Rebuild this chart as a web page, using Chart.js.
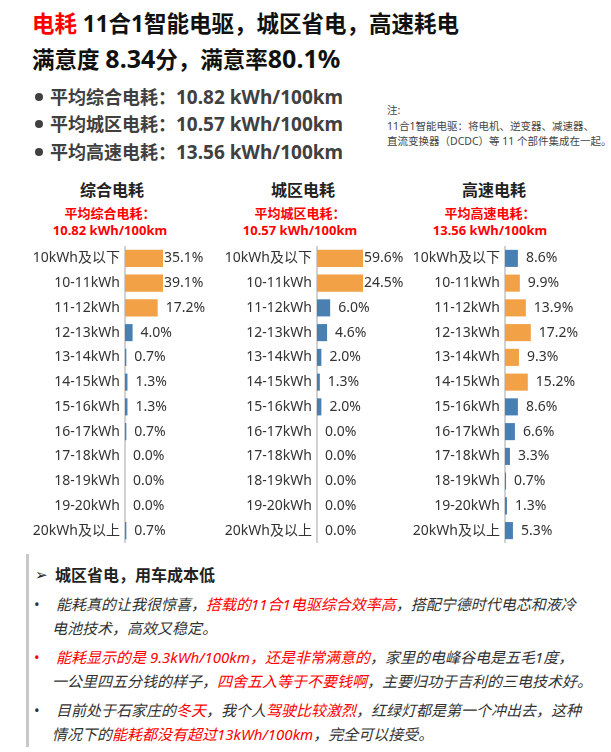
<!DOCTYPE html>
<html>
<head>
<meta charset="utf-8">
<script src="https://cdn.jsdelivr.net/npm/chart.js@4.4.1/dist/chart.umd.min.js"></script>
<style>
  body { margin: 0; width: 611px; height: 752px; background: #fff; position: relative; overflow: hidden;
         font-family: "Noto Sans", "Noto Sans CJK SC", sans-serif; color: #222; }
  .abs { position: absolute; white-space: nowrap; }
  .title { left: 32px; font-size: 22.5px; font-weight: bold; line-height: 32px; color: #111; }
  .title .num { font-size: 25px; }
  .red { color: #ff0000; }
  .avg { left: 50px; font-size: 18px; font-weight: bold; line-height: 28px; color: #404040; }
  .avg .num { font-size: 19px; }
  .dot { position: absolute; left: -15px; top: 10px; width: 8px; height: 8px; border-radius: 50%; background: #404040; }
  .note { left: 387px; top: 103px; font-size: 10.5px; line-height: 15.5px; color: #444; }
  .ctitle { font-size: 16px; font-weight: bold; line-height: 20px; color: #222; text-align: center; width: 180px; }
  .csub { font-size: 13px; font-weight: bold; line-height: 16.5px; color: #ff0000; text-align: center; width: 180px; }
  canvas { position: absolute; top: 246px; }
  .box { position: absolute; left: 26px; top: 554px; width: 580px; height: 193px; border-left: 3px solid #c8c8c8; }
  .box h3 { margin: 9px 0 0 0; font-size: 16px; line-height: 24px; font-weight: bold; padding-left: 26px; position: relative; color: #222; }
  .box h3 .arrow { position: absolute; left: 6px; top: 0; font-family: "DejaVu Sans"; font-size: 15px; font-weight: normal; }
  .box p { margin: 6px 0 0 0; font-size: 15px; line-height: 23.5px; font-style: italic; padding-left: 23px; position: relative; color: #333; white-space: nowrap; }
  .box p .bul { position: absolute; left: 5px; top: 0; font-style: normal; }
  .box p .first { padding-left: 4px; }
</style>
</head>
<body>
<div class="abs title" style="top:8px"><span class="red">电耗</span> 11合1智能电驱，城区省电，高速耗电</div>
<div class="abs title" style="top:42px">满意度 <span class="num">8.34</span>分，满意率<span class="num">80.1%</span></div>

<div class="abs avg" style="top:83px"><span class="dot"></span>平均综合电耗：<span class="num">10.82 kWh/100km</span></div>
<div class="abs avg" style="top:110px"><span class="dot"></span>平均城区电耗：<span class="num">10.57 kWh/100km</span></div>
<div class="abs avg" style="top:138px"><span class="dot"></span>平均高速电耗：<span class="num">13.56 kWh/100km</span></div>

<div class="abs note">注:<br>11合1智能电驱：将电机、逆变器、减速器、<br>直流变换器（DCDC）等 11 个部件集成在一起。</div>

<div class="abs ctitle" style="left:22px;top:180px">综合电耗</div>
<div class="abs csub" style="left:20px;top:205px">平均综合电耗：<br>10.82 kWh/100km</div>
<div class="abs ctitle" style="left:213px;top:180px">城区电耗</div>
<div class="abs csub" style="left:210px;top:205px">平均城区电耗：<br>10.57 kWh/100km</div>
<div class="abs ctitle" style="left:404px;top:180px">高速电耗</div>
<div class="abs csub" style="left:400px;top:205px">平均高速电耗：<br>13.56 kWh/100km</div>

<canvas id="overall" width="185" height="297" style="left:33px"></canvas>
<canvas id="city" width="185" height="297" style="left:225px"></canvas>
<canvas id="highway" width="190" height="297" style="left:413px"></canvas>

<div class="box">
  <h3><span class="arrow">➢</span>城区省电，用车成本低</h3>
  <p><span class="bul">•</span><span class="first">能耗真的让我很惊喜，<span class="red">搭载的11合1电驱综合效率高</span>，搭配宁德时代电芯和液冷</span><br>电池技术，高效又稳定。</p>
  <p><span class="bul red">•</span><span class="first"><span class="red">能耗显示的是 9.3kWh/100km，还是非常满意的</span>，家里的电峰谷电是五毛1度，</span><br>一公里四五分钱的样子，<span class="red">四舍五入等于不要钱啊</span>，主要归功于吉利的三电技术好。</p>
  <p><span class="bul">•</span><span class="first">目前处于石家庄的<span class="red">冬天</span>，我个人<span class="red">驾驶比较激烈</span>，红绿灯都是第一个冲出去，这种</span><br>情况下的<span class="red">能耗都没有超过13kWh/100km</span>，完全可以接受。</p>
</div>

<script>
// energy use bands (kWh per 100km)
const categories = ["10kWh及以下", "10-11kWh", "11-12kWh", "12-13kWh", "13-14kWh", "14-15kWh",
  "15-16kWh", "16-17kWh", "17-18kWh", "18-19kWh", "19-20kWh", "20kWh及以上"];

// share of owners in each band, %
const overallValues = [35.1, 39.1, 17.2, 4.0, 0.7, 1.3, 1.3, 0.7, 0.0, 0.0, 0.0, 0.7];
const cityValues = [59.6, 24.5, 6.0, 4.6, 2.0, 1.3, 2.0, 0.0, 0.0, 0.0, 0.0, 0.0];
const highwayValues = [8.6, 9.9, 13.9, 17.2, 9.3, 15.2, 8.6, 6.6, 3.3, 0.7, 1.3, 5.3];

const highlightFrom = 9;

Chart.defaults.font.family = '"Noto Sans", "Noto Sans CJK SC", sans-serif';

// percent labels after each bar, kept inside view when the bar is cut off
const valueLabels = {
  id: "valueLabels",
  afterDatasetsDraw(chart) {
    const { ctx, chartArea } = chart;
    const meta = chart.getDatasetMeta(0);
    const values = chart.data.datasets[0].data;
    ctx.save();
    ctx.font = '14px "Noto Sans", "Noto Sans CJK SC"';
    ctx.fillStyle = "#333";
    ctx.textBaseline = "middle";
    ctx.textAlign = "left";
    meta.data.forEach(function(bar, i) {
      const cut = bar.x >= chartArea.right;
      const x = cut ? chartArea.right + 1 : bar.x + 8;
      ctx.fillText(values[i].toFixed(1) + "%", x, bar.y);
    });
    ctx.restore();
  }
};

function makeChart(id, values, xMax, padRight) {
  const ctx = document.getElementById(id).getContext("2d");
  return new Chart(ctx, {
    type: "bar",
    data: {
      labels: categories,
      datasets: [{
        data: values,
        backgroundColor: values.map(v => v >= highlightFrom ? "#f2a146" : "#4a7fb1"),
        barPercentage: 0.69,
        categoryPercentage: 1,
        clip: 0
      }]
    },
    options: {
      indexAxis: "y",
      responsive: false,
      animation: false,
      layout: { autoPadding: false, padding: { left: 0, right: padRight, top: 0, bottom: 0 } },
      plugins: { legend: { display: false }, tooltip: { enabled: false } },
      scales: {
        x: { display: false, min: 0, max: xMax },
        y: {
          grid: { display: false, drawTicks: false },
          border: { display: true, color: "#d2d2d2", width: 2 },
          ticks: { color: "#333", font: { size: 14 }, padding: 5 },
          afterFit(scale) {
            scale.width = 92;
            scale.paddingTop = 0;
            scale.paddingBottom = 0;
          }
        }
      }
    },
    plugins: [valueLabels]
  });
}

makeChart("overall", overallValues, 20, 55);
makeChart("city", cityValues, 21, 47);
makeChart("highway", highwayValues, 30, 53);
</script>
</body>
</html>
